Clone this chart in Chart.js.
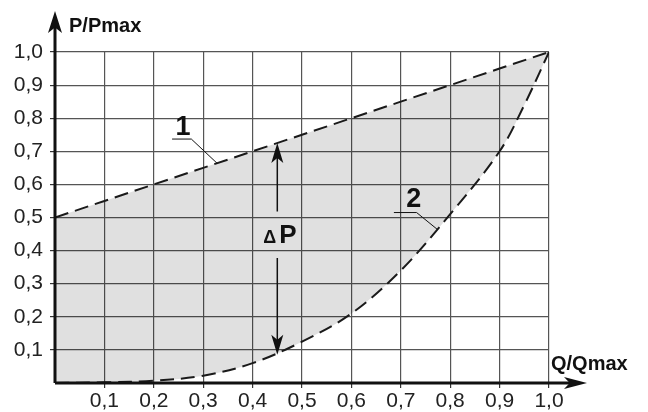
<!DOCTYPE html>
<html>
<head>
<meta charset="utf-8">
<script src="https://cdn.jsdelivr.net/npm/chart.js@4/dist/chart.umd.min.js"></script>
<style>
  html, body { margin: 0; padding: 0; background: #fff; }
  #wrap { width: 648px; height: 412px; }
</style>
</head>
<body>
<div id="wrap"><canvas id="chart" width="648" height="412"></canvas></div>
<script>
// curve 1 - upper limit, curve 2 - lower limit
const upperQ = [0, 0.1, 0.2, 0.3, 0.4, 0.5, 0.6, 0.7, 0.8, 0.9, 1.0];
const upperP = [0.5, 0.55, 0.6, 0.65, 0.7, 0.75, 0.8, 0.85, 0.9, 0.95, 1.0];
const lowerQ = [0, 0.1, 0.2, 0.3, 0.4, 0.5, 0.6, 0.7, 0.8, 0.9, 0.95, 1.0];
const lowerP = [0, 0.002, 0.007, 0.022, 0.06, 0.125, 0.21, 0.34, 0.51, 0.7, 0.84, 1.0];
const tickValues = [0.1, 0.2, 0.3, 0.4, 0.5, 0.6, 0.7, 0.8, 0.9, 1.0];

const xTitle = "Q/Qmax";
const yTitle = "P/Pmax";
const deltaQ = 0.45; // where the ΔP arrows sit

const toPoints = (qs, ps) => qs.map((q, i) => ({ x: q, y: ps[i] }));
const fmt = (v) => Number(v).toFixed(1).replace(".", ",");

const arrowHead = (ctx, x, y, dx, dy, len, half) => {
  // tip at (x,y), pointing along (dx,dy)
  const bx = x - dx * len, by = y - dy * len;
  const nx = -dy, ny = dx;
  ctx.beginPath();
  ctx.moveTo(x, y);
  ctx.lineTo(bx + nx * half, by + ny * half);
  ctx.lineTo(x - dx * len * 0.75, y - dy * len * 0.75);
  ctx.lineTo(bx - nx * half, by - ny * half);
  ctx.closePath();
  ctx.fill();
};

const decorations = {
  id: "decorations",
  afterDraw(chart) {
    const { ctx, chartArea: a, scales: { x, y } } = chart;
    const X = (v) => x.getPixelForValue(v);
    const Y = (v) => y.getPixelForValue(v);
    ctx.save();
    ctx.fillStyle = "#111";
    ctx.strokeStyle = "#111";

    // axes with arrows
    ctx.lineWidth = 3;
    ctx.beginPath();
    ctx.moveTo(a.left, a.bottom);
    ctx.lineTo(a.left, 22);
    ctx.moveTo(a.left, a.bottom);
    ctx.lineTo(576, a.bottom);
    ctx.stroke();
    arrowHead(ctx, a.left, 11, 0, -1, 22, 7);
    arrowHead(ctx, 587, a.bottom, 1, 0, 23, 6);

    // axis titles
    ctx.font = "bold 20px 'Liberation Sans', Arial, sans-serif";
    ctx.textAlign = "left";
    ctx.textBaseline = "alphabetic";
    ctx.fillText(yTitle, 69, 32);
    ctx.fillText(xTitle, 551, 370);

    // curve labels with leader lines
    ctx.lineWidth = 1;
    ctx.beginPath();
    ctx.moveTo(X(0.237), Y(0.737));
    ctx.lineTo(X(0.276), Y(0.737));
    ctx.lineTo(X(0.328), Y(0.664));
    ctx.moveTo(X(0.686), Y(0.515));
    ctx.lineTo(X(0.732), Y(0.515));
    ctx.lineTo(X(0.774), Y(0.464));
    ctx.stroke();
    ctx.font = "bold 27px 'Liberation Sans', Arial, sans-serif";
    ctx.textAlign = "center";
    ctx.fillText("1", X(0.259), Y(0.749));
    ctx.fillText("2", X(0.726), Y(0.532));

    // ΔP arrows
    const ax = X(deltaQ);
    const top = Y(0.5 + deltaQ * 0.5);
    const bot = Y(0.085);
    ctx.lineWidth = 1.5;
    ctx.beginPath();
    ctx.moveTo(ax, top + 10);
    ctx.lineTo(ax, Y(0.518));
    ctx.moveTo(ax, Y(0.378));
    ctx.lineTo(ax, bot - 10);
    ctx.stroke();
    arrowHead(ctx, ax, top, 0, -1, 20, 6);
    arrowHead(ctx, ax, bot, 0, 1, 20, 6);
    ctx.font = "bold 18px 'Liberation Sans', Arial, sans-serif";
    ctx.textAlign = "right";
    ctx.fillText("\u0394", ax - 1, Y(0.423));
    ctx.font = "bold 26px 'Liberation Sans', Arial, sans-serif";
    ctx.textAlign = "left";
    ctx.fillText("P", ax + 2, Y(0.423));
    ctx.restore();
  }
};

new Chart(document.getElementById("chart"), {
  type: "line",
  data: {
    datasets: [
      {
        label: "1",
        data: toPoints(upperQ, upperP),
        borderColor: "#1a1a1a",
        borderWidth: 2,
        borderDash: [14, 7],
        pointRadius: 0,
        fill: false,
        tension: 0
      },
      {
        label: "2",
        data: toPoints(lowerQ, lowerP),
        borderColor: "#1a1a1a",
        borderWidth: 2,
        borderDash: [14, 7],
        pointRadius: 0,
        backgroundColor: "rgba(0,0,0,0.12)",
        fill: 0,
        tension: 0.35
      }
    ]
  },
  options: {
    responsive: false,
    animation: false,
    layout: { padding: { top: 52, right: 99, left: 0, bottom: 0 } },
    plugins: { legend: { display: false }, tooltip: { enabled: false } },
    scales: {
      x: {
        type: "linear",
        min: 0,
        max: 1,
        afterBuildTicks: (s) => { s.ticks = tickValues.map((v) => ({ value: v })); },
        afterFit: (s) => { s.height = 29; },
        border: { display: false },
        grid: { color: "#555", lineWidth: 1.2, tickLength: 5, tickColor: "#333" },
        ticks: {
          autoSkip: false,
          maxRotation: 0,
          padding: 1,
          color: "#222",
          font: { family: "'Liberation Sans', Arial, sans-serif", size: 21 },
          callback: fmt
        }
      },
      y: {
        min: 0,
        max: 1,
        afterBuildTicks: (s) => { s.ticks = tickValues.map((v) => ({ value: v })); },
        afterFit: (s) => { s.width = 55; },
        border: { display: false },
        grid: { color: "#555", lineWidth: 1.2, tickLength: 5, tickColor: "#333" },
        ticks: {
          autoSkip: false,
          padding: 7,
          color: "#222",
          font: { family: "'Liberation Sans', Arial, sans-serif", size: 21 },
          callback: fmt
        }
      }
    }
  },
  plugins: [decorations]
});
</script>
</body>
</html>
